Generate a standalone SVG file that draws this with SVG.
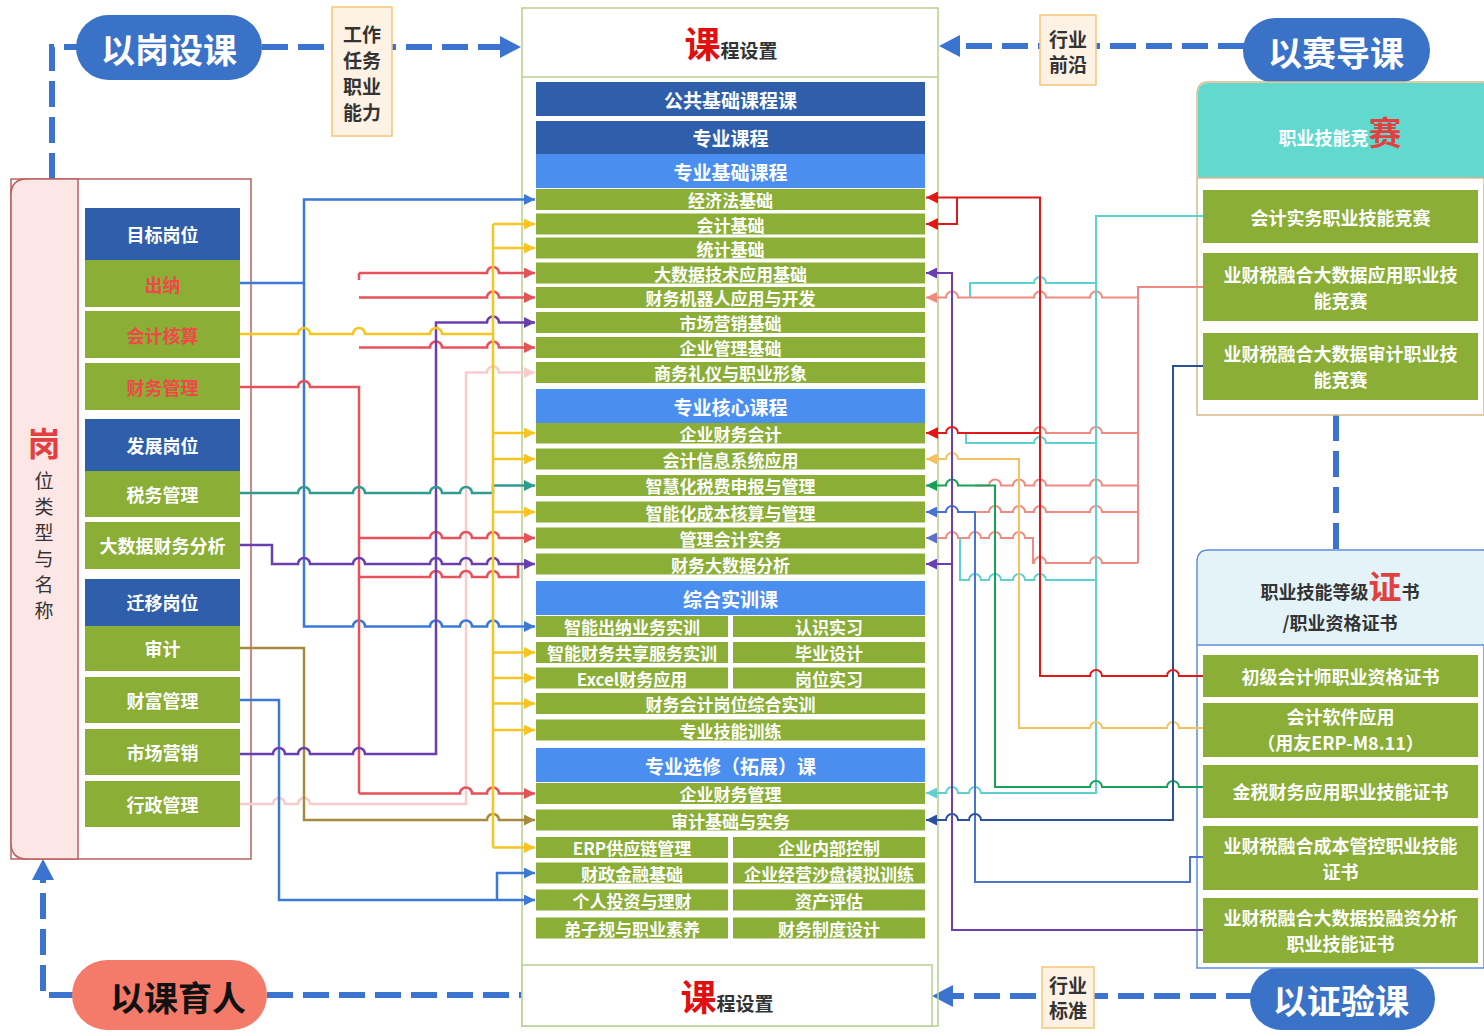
<svg xmlns="http://www.w3.org/2000/svg" width="1484" height="1033" viewBox="0 0 1484 1033">
<style>
text{font-family:"Noto Sans CJK SC","Liberation Sans",sans-serif;font-weight:bold;text-anchor:middle;dominant-baseline:central}
.g{fill:#8aae36}
.db{fill:#2f5fab}
.lb{fill:#4a8ff0}
.w{fill:#fff}
.t19{font-size:19px}
.t17{font-size:17px}
.t18{font-size:18px}
.red{fill:#f04848}
.c{fill:none;stroke-width:2.5;stroke-linejoin:miter}
.r{fill:none;stroke-width:2}
.dash{fill:none;stroke:#3a74d0;stroke-width:6;stroke-dasharray:26 10}
.pill{fill:#3a72c8}
.tag{fill:#fdf2e3;stroke:#f5c67a;stroke-width:1.5}
.tagt{font-size:19px;fill:#333}
.base{dominant-baseline:auto}
</style>
<defs>
<marker id="aBlue" viewBox="0 0 10 10" refX="10" refY="5" markerWidth="11" markerHeight="11" markerUnits="userSpaceOnUse" orient="auto"><path d="M0,0L10,5L0,10z" fill="#3b78d8"/></marker>
<marker id="aYel" viewBox="0 0 10 10" refX="10" refY="5" markerWidth="11" markerHeight="11" markerUnits="userSpaceOnUse" orient="auto"><path d="M0,0L10,5L0,10z" fill="#f7c520"/></marker>
<marker id="aRed" viewBox="0 0 10 10" refX="10" refY="5" markerWidth="11" markerHeight="11" markerUnits="userSpaceOnUse" orient="auto"><path d="M0,0L10,5L0,10z" fill="#e8505a"/></marker>
<marker id="aPur" viewBox="0 0 10 10" refX="10" refY="5" markerWidth="11" markerHeight="11" markerUnits="userSpaceOnUse" orient="auto"><path d="M0,0L10,5L0,10z" fill="#6a3fb0"/></marker>
<marker id="aTeal" viewBox="0 0 10 10" refX="10" refY="5" markerWidth="11" markerHeight="11" markerUnits="userSpaceOnUse" orient="auto"><path d="M0,0L10,5L0,10z" fill="#2f9c8f"/></marker>
<marker id="aPink" viewBox="0 0 10 10" refX="10" refY="5" markerWidth="11" markerHeight="11" markerUnits="userSpaceOnUse" orient="auto"><path d="M0,0L10,5L0,10z" fill="#f6cccc"/></marker>
<marker id="aBrown" viewBox="0 0 10 10" refX="10" refY="5" markerWidth="11" markerHeight="11" markerUnits="userSpaceOnUse" orient="auto"><path d="M0,0L10,5L0,10z" fill="#a88a3e"/></marker>
<marker id="aRedR" viewBox="0 0 10 10" refX="10" refY="5" markerWidth="12" markerHeight="12" markerUnits="userSpaceOnUse" orient="auto"><path d="M0,0L10,5L0,10z" fill="#e01818"/></marker>
<marker id="aCyan" viewBox="0 0 10 10" refX="10" refY="5" markerWidth="11" markerHeight="11" markerUnits="userSpaceOnUse" orient="auto"><path d="M0,0L10,5L0,10z" fill="#5fd0d0"/></marker>
<marker id="aSal" viewBox="0 0 10 10" refX="10" refY="5" markerWidth="11" markerHeight="11" markerUnits="userSpaceOnUse" orient="auto"><path d="M0,0L10,5L0,10z" fill="#f08a80"/></marker>
<marker id="aOra" viewBox="0 0 10 10" refX="10" refY="5" markerWidth="11" markerHeight="11" markerUnits="userSpaceOnUse" orient="auto"><path d="M0,0L10,5L0,10z" fill="#f5c060"/></marker>
<marker id="aGrn" viewBox="0 0 10 10" refX="10" refY="5" markerWidth="11" markerHeight="11" markerUnits="userSpaceOnUse" orient="auto"><path d="M0,0L10,5L0,10z" fill="#18a058"/></marker>
<marker id="aBlu2" viewBox="0 0 10 10" refX="10" refY="5" markerWidth="11" markerHeight="11" markerUnits="userSpaceOnUse" orient="auto"><path d="M0,0L10,5L0,10z" fill="#4a72d0"/></marker>
<marker id="aDB" viewBox="0 0 10 10" refX="10" refY="5" markerWidth="11" markerHeight="11" markerUnits="userSpaceOnUse" orient="auto"><path d="M0,0L10,5L0,10z" fill="#2c4f9a"/></marker>
<marker id="aMix" viewBox="0 0 10 10" refX="10" refY="5" markerWidth="11" markerHeight="11" markerUnits="userSpaceOnUse" orient="auto"><path d="M0,0L10,5L0,10z" fill="#5b6fc8"/></marker>
</defs>
<rect width="1484" height="1033" fill="#fff"/>

<g id="flows">
<path class="dash" d="M52,179V47H80"/>
<path class="dash" d="M262,47H505"/>
<polygon points="500,36 521,47 500,58" fill="#3a74d0"/>
<path class="dash" d="M1244,46H955"/>
<polygon points="960,35 939,46 960,57" fill="#3a74d0"/>
<path class="dash" d="M1336,415V550"/>
<path class="dash" d="M1252,996H948"/>
<polygon points="953,985 932,996 953,1007" fill="#3a74d0"/>
<path class="dash" d="M267,995H522"/>
<path class="dash" d="M75,995H43V878"/>
<polygon points="32,880 43,859 54,880" fill="#3a74d0"/>
</g>

<g id="post-box">
<rect x="11" y="179" width="240" height="680" fill="#fff" stroke="#b86060" stroke-width="1.5"/>
<path d="M27,179H78V859H27Q11,859 11,843V195Q11,179 27,179Z" fill="#fde6e6" stroke="#b86060" stroke-width="1.5"/>
<text x="44" y="442" style="font-size:33px;fill:#e04040">岗</text>
<text x="44" y="479" style="font-size:19px;fill:#333;font-weight:normal">位</text>
<text x="44" y="505" style="font-size:19px;fill:#333;font-weight:normal">类</text>
<text x="44" y="531" style="font-size:19px;fill:#333;font-weight:normal">型</text>
<text x="44" y="557" style="font-size:19px;fill:#333;font-weight:normal">与</text>
<text x="44" y="583" style="font-size:19px;fill:#333;font-weight:normal">名</text>
<text x="44" y="609" style="font-size:19px;fill:#333;font-weight:normal">称</text>
</g>
<g id="n-mubiao"><rect class="db" x="85" y="208" width="155" height="52"/><text class="w t18" x="162.5" y="234">目标岗位</text></g>
<g id="n-chuna"><rect class="g" x="85" y="260" width="155" height="47"/><text class="red t18" x="162.5" y="284">出纳</text></g>
<g id="n-kuaiji"><rect class="g" x="85" y="311" width="155" height="47"/><text class="red t18" x="162.5" y="335">会计核算</text></g>
<g id="n-caiwu"><rect class="g" x="85" y="363" width="155" height="47"/><text class="red t18" x="162.5" y="387">财务管理</text></g>
<g id="n-fazhan"><rect class="db" x="85" y="419" width="155" height="52"/><text class="w t18" x="162.5" y="445">发展岗位</text></g>
<g id="n-shuiwu"><rect class="g" x="85" y="471" width="155" height="46"/><text class="w t18" x="162.5" y="494">税务管理</text></g>
<g id="n-dashuju"><rect class="g" x="85" y="522" width="155" height="47"/><text class="w t18" x="162.5" y="545">大数据财务分析</text></g>
<g id="n-qianyi"><rect class="db" x="85" y="579" width="155" height="47"/><text class="w t18" x="162.5" y="602">迁移岗位</text></g>
<g id="n-shenji"><rect class="g" x="85" y="626" width="155" height="45"/><text class="w t18" x="162.5" y="648">审计</text></g>
<g id="n-caifu"><rect class="g" x="85" y="677" width="155" height="46"/><text class="w t18" x="162.5" y="700">财富管理</text></g>
<g id="n-shichang"><rect class="g" x="85" y="729" width="155" height="46"/><text class="w t18" x="162.5" y="752">市场营销</text></g>
<g id="n-xingzheng"><rect class="g" x="85" y="781" width="155" height="46"/><text class="w t18" x="162.5" y="804">行政管理</text></g>

<g id="n-yigang"><rect class="pill" x="76" y="15" width="186" height="65" rx="32.5"/><text class="w" x="169" y="48" style="font-size:34px">以岗设课</text></g>
<g id="n-gongzuo"><rect class="tag" x="332" y="7" width="60" height="129"/><text class="tagt" x="362" y="33">工作</text><text class="tagt" x="362" y="59">任务</text><text class="tagt" x="362" y="85">职业</text><text class="tagt" x="362" y="111">能力</text></g>
<g id="n-yisai"><rect class="pill" x="1243" y="18" width="187" height="65" rx="32.5"/><text class="w" x="1336" y="51" style="font-size:34px">以赛导课</text></g>
<g id="n-qianyan"><rect class="tag" x="1040" y="15" width="56" height="70"/><text class="tagt" x="1068" y="38">行业</text><text class="tagt" x="1068" y="63">前沿</text></g>
<g id="n-yike"><rect x="72" y="960" width="195" height="70" rx="35" fill="#f47a6a"/><text x="178" y="996" style="font-size:34px;fill:#111">以课育人</text></g>
<g id="n-yizheng"><rect class="pill" x="1250" y="967" width="185" height="63" rx="31.5"/><text class="w" x="1341" y="999" style="font-size:34px">以证验课</text></g>
<g id="n-biaozhun"><rect class="tag" x="1042" y="967" width="52" height="61"/><text class="tagt" x="1068" y="984">行业</text><text class="tagt" x="1068" y="1009">标准</text></g>

<g id="course-box">
<rect x="522" y="8" width="416" height="1018" fill="none" stroke="#b8d090" stroke-width="1.5"/>
<line x1="522" y1="77" x2="938" y2="77" stroke="#b8d090" stroke-width="1.5"/>
<text class="base" x="731" y="58"><tspan style="font-size:36px;fill:#e01010">课</tspan><tspan style="font-size:19px;fill:#333">程设置</tspan></text>
<rect x="522" y="965" width="410" height="61" fill="#fff" stroke="#b8d090" stroke-width="1.5"/>
<text class="base" x="727" y="1011"><tspan style="font-size:36px;fill:#e01010">课</tspan><tspan style="font-size:19px;fill:#333">程设置</tspan></text>
</g>
<g id="courses">
<rect class="db" x="536" y="82" width="389" height="34"/><text class="w t19" x="730.5" y="99">公共基础课程课</text>
<rect class="db" x="536" y="121" width="389" height="33"/><text class="w t19" x="730.5" y="137.5">专业课程</text>
<rect class="lb" x="536" y="154" width="389" height="34"/><text class="w t19" x="730.5" y="171">专业基础课程</text>
<rect class="g" x="536" y="189" width="389" height="21"/><text class="w t17" x="730.5" y="199.5">经济法基础</text>
<rect class="g" x="536" y="213.5" width="389" height="21"/><text class="w t17" x="730.5" y="224">会计基础</text>
<rect class="g" x="536" y="237.5" width="389" height="21"/><text class="w t17" x="730.5" y="248">统计基础</text>
<rect class="g" x="536" y="262.5" width="389" height="21"/><text class="w t17" x="730.5" y="273">大数据技术应用基础</text>
<rect class="g" x="536" y="287" width="389" height="21"/><text class="w t17" x="730.5" y="297.5">财务机器人应用与开发</text>
<rect class="g" x="536" y="312" width="389" height="21"/><text class="w t17" x="730.5" y="322.5">市场营销基础</text>
<rect class="g" x="536" y="337" width="389" height="21"/><text class="w t17" x="730.5" y="347.5">企业管理基础</text>
<rect class="g" x="536" y="362" width="389" height="21"/><text class="w t17" x="730.5" y="372.5">商务礼仪与职业形象</text>
<rect class="lb" x="536" y="389" width="389" height="34"/><text class="w t19" x="730.5" y="406">专业核心课程</text>
<rect class="g" x="536" y="423" width="389" height="20.5"/><text class="w t17" x="730.5" y="433">企业财务会计</text>
<rect class="g" x="536" y="448.5" width="389" height="21"/><text class="w t17" x="730.5" y="459">会计信息系统应用</text>
<rect class="g" x="536" y="475" width="389" height="21"/><text class="w t17" x="730.5" y="485.5">智慧化税费申报与管理</text>
<rect class="g" x="536" y="501.5" width="389" height="21"/><text class="w t17" x="730.5" y="512">智能化成本核算与管理</text>
<rect class="g" x="536" y="527.5" width="389" height="21"/><text class="w t17" x="730.5" y="538">管理会计实务</text>
<rect class="g" x="536" y="553.5" width="389" height="21"/><text class="w t17" x="730.5" y="564">财务大数据分析</text>
<rect class="lb" x="536" y="581" width="389" height="34"/><text class="w t19" x="730.5" y="598">综合实训课</text>
<rect class="g" x="536" y="616" width="192" height="21"/><text class="w t17" x="632" y="626.5">智能出纳业务实训</text>
<rect class="g" x="733" y="616" width="192" height="21"/><text class="w t17" x="829" y="626.5">认识实习</text>
<rect class="g" x="536" y="642" width="192" height="21"/><text class="w t17" x="632" y="652.5">智能财务共享服务实训</text>
<rect class="g" x="733" y="642" width="192" height="21"/><text class="w t17" x="829" y="652.5">毕业设计</text>
<rect class="g" x="536" y="667.5" width="192" height="21"/><text class="w t17" x="632" y="678">Excel财务应用</text>
<rect class="g" x="733" y="667.5" width="192" height="21"/><text class="w t17" x="829" y="678">岗位实习</text>
<rect class="g" x="536" y="693" width="389" height="21"/><text class="w t17" x="730.5" y="703.5">财务会计岗位综合实训</text>
<rect class="g" x="536" y="719.5" width="389" height="21"/><text class="w t17" x="730.5" y="730">专业技能训练</text>
<rect class="lb" x="536" y="748" width="389" height="34"/><text class="w t19" x="730.5" y="765">专业选修（拓展）课</text>
<rect class="g" x="536" y="783" width="389" height="21"/><text class="w t17" x="730.5" y="793.5">企业财务管理</text>
<rect class="g" x="536" y="809.5" width="389" height="21"/><text class="w t17" x="730.5" y="820">审计基础与实务</text>
<rect class="g" x="536" y="837" width="192" height="21"/><text class="w t17" x="632" y="847.5">ERP供应链管理</text>
<rect class="g" x="733" y="837" width="192" height="21"/><text class="w t17" x="829" y="847.5">企业内部控制</text>
<rect class="g" x="536" y="862.5" width="192" height="21"/><text class="w t17" x="632" y="873">财政金融基础</text>
<rect class="g" x="733" y="862.5" width="192" height="21"/><text class="w t17" x="829" y="873">企业经营沙盘模拟训练</text>
<rect class="g" x="536" y="889.5" width="192" height="21"/><text class="w t17" x="632" y="900">个人投资与理财</text>
<rect class="g" x="733" y="889.5" width="192" height="21"/><text class="w t17" x="829" y="900">资产评估</text>
<rect class="g" x="536" y="917.5" width="192" height="21"/><text class="w t17" x="632" y="928">弟子规与职业素养</text>
<rect class="g" x="733" y="917.5" width="192" height="21"/><text class="w t17" x="829" y="928">财务制度设计</text>
</g>

<g id="comp-box">
<path d="M1197,415V94Q1197,82 1209,82H1484V415Z" fill="#fff" stroke="#d9b98a" stroke-width="1.5"/>
<path d="M1198,178V94Q1198,83 1209,83H1484V178Z" fill="#62d9cf"/>
<line x1="1197" y1="178" x2="1484" y2="178" stroke="#d9b98a" stroke-width="1.5"/>
<text class="base" x="1340" y="145"><tspan style="font-size:18px;fill:#fff">职业技能竞</tspan><tspan style="font-size:33px;fill:#e04040">赛</tspan></text>
</g>
<g id="n-c1"><rect class="g" x="1203" y="190" width="275" height="53"/><text class="w t18" x="1340.5" y="216.5">会计实务职业技能竞赛</text></g>
<g id="n-c2"><rect class="g" x="1203" y="253" width="275" height="68"/><text class="w t18" x="1340.5" y="274">业财税融合大数据应用职业技</text><text class="w t18" x="1340.5" y="300">能竞赛</text></g>
<g id="n-c3"><rect class="g" x="1203" y="333" width="275" height="67"/><text class="w t18" x="1340.5" y="353">业财税融合大数据审计职业技</text><text class="w t18" x="1340.5" y="379">能竞赛</text></g>

<g id="cert-box">
<path d="M1197,968V562Q1197,550 1209,550H1484V968Z" fill="#fff" stroke="#5b8fd9" stroke-width="1.5"/>
<path d="M1198,645V562Q1198,551 1209,551H1484V645Z" fill="#e3f3f8"/>
<line x1="1197" y1="645" x2="1484" y2="645" stroke="#5b8fd9" stroke-width="1.5"/>
<text class="base" x="1340" y="599"><tspan style="font-size:18px;fill:#333">职业技能等级</tspan><tspan style="font-size:33px;fill:#e04040">证</tspan><tspan style="font-size:18px;fill:#333">书</tspan></text>
<text x="1340" y="622" style="font-size:18px;fill:#333">/职业资格证书</text>
</g>
<g id="n-z1"><rect class="g" x="1203" y="655" width="275" height="42"/><text class="w t18" x="1340.5" y="676">初级会计师职业资格证书</text></g>
<g id="n-z2"><rect class="g" x="1203" y="703" width="275" height="54"/><text class="w t18" x="1340.5" y="716">会计软件应用</text><text class="w t18" x="1340.5" y="742">（用友ERP-M8.11）</text></g>
<g id="n-z3"><rect class="g" x="1203" y="765" width="275" height="53"/><text class="w t18" x="1340.5" y="791">金税财务应用职业技能证书</text></g>
<g id="n-z4"><rect class="g" x="1203" y="826" width="275" height="64"/><text class="w t18" x="1340.5" y="845">业财税融合成本管控职业技能</text><text class="w t18" x="1340.5" y="871">证书</text></g>
<g id="n-z5"><rect class="g" x="1203" y="898" width="275" height="65"/><text class="w t18" x="1340.5" y="917">业财税融合大数据投融资分析</text><text class="w t18" x="1340.5" y="943">职业技能证书</text></g>

<g id="connectors">
<path class="c" stroke="#f6cccc" marker-end="url(#aPink)" d="M240,804H273a6,6 0 0 1 12,0H298a6,6 0 0 1 12,0H466V372.5H487a6,6 0 0 1 12,0H535"/>
<path class="c" stroke="#3b78d8" marker-end="url(#aBlue)" d="M240,283H304V199.5H535"/>
<path class="c" stroke="#3b78d8" marker-end="url(#aBlue)" d="M304,283V626.5H353a6,6 0 0 1 12,0H430a6,6 0 0 1 12,0H460a6,6 0 0 1 12,0H487a6,6 0 0 1 12,0H535"/>
<path class="c" stroke="#3b78d8" marker-end="url(#aBlue)" d="M240,700H279V900H535"/>
<path class="c" stroke="#3b78d8" marker-end="url(#aBlue)" d="M497,900V873H535"/>
<path class="c" stroke="#a88a3e" marker-end="url(#aBrown)" d="M240,648H304V820H487a6,6 0 0 1 12,0H535"/>
<path class="c" stroke="#e8505a" d="M240,387H298a6,6 0 0 1 12,0H359V793.5"/>
<path class="c" stroke="#e8505a" d="M359,273V280"/>
<path class="c" stroke="#e8505a" marker-end="url(#aRed)" d="M359,273H487a6,6 0 0 1 12,0H535"/>
<path class="c" stroke="#e8505a" marker-end="url(#aRed)" d="M359,297.5H487a6,6 0 0 1 12,0H535"/>
<path class="c" stroke="#e8505a" marker-end="url(#aRed)" d="M359,347.5H430a6,6 0 0 1 12,0H487a6,6 0 0 1 12,0H535"/>
<path class="c" stroke="#e8505a" marker-end="url(#aRed)" d="M359,538H430a6,6 0 0 1 12,0H460a6,6 0 0 1 12,0H487a6,6 0 0 1 12,0H535"/>
<path class="c" stroke="#e8505a" d="M359,577H430a6,6 0 0 1 12,0H460a6,6 0 0 1 12,0H487a6,6 0 0 1 12,0H518V564"/>
<path class="c" stroke="#e8505a" marker-end="url(#aRed)" d="M359,793.5H460a6,6 0 0 1 12,0H487a6,6 0 0 1 12,0H535"/>
<path class="c" stroke="#6a3fb0" marker-end="url(#aPur)" d="M240,545H272V564H298a6,6 0 0 1 12,0H353a6,6 0 0 1 12,0H430a6,6 0 0 1 12,0H460a6,6 0 0 1 12,0H487a6,6 0 0 1 12,0H535"/>
<path class="c" stroke="#6a3fb0" marker-end="url(#aPur)" d="M240,754H273a6,6 0 0 1 12,0H298a6,6 0 0 1 12,0H353a6,6 0 0 1 12,0H436V322.5H487a6,6 0 0 1 12,0H535"/>
<path class="c" stroke="#2f9c8f" marker-end="url(#aTeal)" d="M240,493H298a6,6 0 0 1 12,0H353a6,6 0 0 1 12,0H430a6,6 0 0 1 12,0H460a6,6 0 0 1 12,0H493V485.5H535"/>
<path class="c" stroke="#f7c520" d="M240,334H298a6,6 0 0 1 12,0H353a6,6 0 0 1 12,0H430a6,6 0 0 1 12,0H493"/>
<path class="c" stroke="#f7c520" d="M493,224V847.5"/>
<g class="c" stroke="#f7c520" marker-end="url(#aYel)">
<path d="M493,224H535"/><path d="M493,248H535"/><path d="M493,433H535"/><path d="M493,459H535"/><path d="M493,512H535"/>
<path d="M493,652.5H535"/><path d="M493,678H535"/><path d="M493,703.5H535"/><path d="M493,730H535"/><path d="M493,847.5H535"/>
</g>

<path class="r" stroke="#f08a80" d="M1203,287H1138V563"/>
<path class="r" stroke="#f08a80" marker-end="url(#aSal)" d="M1138,297.5H1102a6,6 0 0 0 -12,0H1046a6,6 0 0 0 -12,0H958a6,6 0 0 0 -12,0H926"/>
<path class="r" stroke="#f08a80" d="M1138,433H1102a6,6 0 0 0 -12,0H1046a6,6 0 0 0 -12,0H1030"/>
<path class="r" stroke="#f08a80" d="M1138,485.5H1102a6,6 0 0 0 -12,0H1046a6,6 0 0 0 -12,0H1025a6,6 0 0 0 -12,0H1001a6,6 0 0 0 -12,0H975"/>
<path class="r" stroke="#f08a80" d="M1138,512H1102a6,6 0 0 0 -12,0H1046a6,6 0 0 0 -12,0H1025a6,6 0 0 0 -12,0H1001a6,6 0 0 0 -12,0H975"/>
<path class="r" stroke="#f08a80" marker-end="url(#aMix)" d="M1138,563H1102a6,6 0 0 0 -12,0H1046a6,6 0 0 0 -12,0H1033V538H1025a6,6 0 0 0 -12,0H1001a6,6 0 0 0 -12,0H981a6,6 0 0 0 -12,0H958a6,6 0 0 0 -12,0H926"/>
<path class="r" stroke="#5fd0d0" marker-end="url(#aCyan)" d="M1203,216H1096V793H981a6,6 0 0 0 -12,0H958a6,6 0 0 0 -12,0H926"/>
<path class="r" stroke="#5fd0d0" d="M1096,283H1046a6,6 0 0 0 -12,0H970V297.5"/>
<path class="r" stroke="#5fd0d0" d="M1096,443H1046a6,6 0 0 0 -12,0H966V433"/>
<path class="r" stroke="#5fd0d0" d="M1096,580H1046a6,6 0 0 0 -12,0H1025a6,6 0 0 0 -12,0H1001a6,6 0 0 0 -12,0H981a6,6 0 0 0 -12,0H960V538"/>
<path class="r" stroke="#f5c060" marker-end="url(#aOra)" d="M1203,728H1179a6,6 0 0 0 -12,0H1102a6,6 0 0 0 -12,0H1019V459H958a6,6 0 0 0 -12,0H926"/>
<path class="r" stroke="#18a058" marker-end="url(#aGrn)" d="M1203,787H1179a6,6 0 0 0 -12,0H1102a6,6 0 0 0 -12,0H995V485.5H958a6,6 0 0 0 -12,0H926"/>
<path class="r" stroke="#4a72d0" marker-end="url(#aBlu2)" d="M1203,857H1190V882H975V512H958a6,6 0 0 0 -12,0H926"/>
<path class="r" stroke="#2c4f9a" marker-end="url(#aDB)" d="M1203,366H1173V820H981a6,6 0 0 0 -12,0H958a6,6 0 0 0 -12,0H926"/>
<path class="r" stroke="#6a3fb0" marker-end="url(#aPur)" d="M1203,930H952V273H926"/>
<path class="r" stroke="#6a3fb0" marker-end="url(#aPur)" d="M952,564H926"/>
<path class="r" stroke="#e01818" stroke-width="3" marker-end="url(#aRedR)" d="M1203,676H1179a6,6 0 0 0 -12,0H1102a6,6 0 0 0 -12,0H1040V197.5H926"/>
<path class="r" stroke="#e01818" stroke-width="3" marker-end="url(#aRedR)" d="M957,197.5V224H926"/>
<path class="r" stroke="#e01818" stroke-width="3" marker-end="url(#aRedR)" d="M1040,433H958a6,6 0 0 0 -12,0H926"/>
</g>
</svg>
